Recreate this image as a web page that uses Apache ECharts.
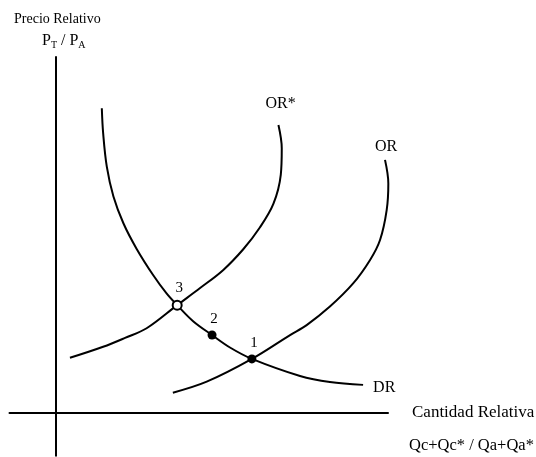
<!DOCTYPE html>
<html>
<head>
<meta charset="utf-8">
<script src="https://cdn.jsdelivr.net/npm/echarts@6/dist/echarts.min.js"></script>
<style>
  html, body { margin: 0; padding: 0; background: #fff; }
  #chart { width: 536px; height: 457px; }
</style>
</head>
<body>
<div id="chart"></div>
<script>
// curvas (unidades relativas 0-10)
var drCurve = [[1.38,8.56],[1.42,7.86],[1.53,6.92],[1.73,6.08],[2.03,5.33],[2.43,4.61],[2.93,3.87],
  [3.33,3.36],[3.65,3.03],[4.13,2.58],[4.70,2.19],[5.24,1.84],[5.90,1.52],[7.35,1.04],[8.25,0.87],[9.25,0.79]];
var orStarCurve = [[0.42,1.55],[1.42,1.86],[2.08,2.11],[2.73,2.38],[3.65,3.03],[4.34,3.51],[5.04,4.02],[5.64,4.60],
  [6.14,5.21],[6.55,5.88],[6.77,6.69],[6.80,7.44],[6.70,8.09]];
var orCurve = [[3.52,0.57],[4.54,0.88],[5.90,1.52],[7.05,2.19],[7.55,2.47],[8.25,2.99],[8.95,3.64],
  [9.46,4.30],[9.76,4.86],[9.96,5.70],[10.01,6.45],[9.91,7.11]];
var equilibria = [[5.90,1.52],[4.70,2.19],[3.65,3.03]];
var equilibriumNames = ['1', '2', '3'];

var serif = '"Liberation Serif", "DejaVu Serif", serif';
var chart = echarts.init(document.getElementById('chart'));

function curve(name, data, off) {
  return {
    name: name,
    type: 'line',
    data: data,
    smooth: 0.35,
    symbol: 'none',
    clip: false,
    lineStyle: { color: '#000', width: 2 },
    endLabel: {
      show: true,
      formatter: name,
      distance: 0,
      offset: off,
      color: '#000',
      fontFamily: serif,
      fontSize: 16
    },
    z: 3
  };
}

chart.setOption({
  animation: false,
  grid: { left: 9.52, right: 148, top: 57, bottom: 1.28 },
  xAxis: {
    type: 'value', min: -1.4, max: 10,
    axisLine: { onZero: true, lineStyle: { color: '#000', width: 2 } },
    axisTick: { show: false }, axisLabel: { show: false }, splitLine: { show: false }
  },
  yAxis: {
    type: 'value', min: -1.2, max: 10,
    axisLine: { onZero: true, lineStyle: { color: '#000', width: 2 } },
    axisTick: { show: false }, axisLabel: { show: false }, splitLine: { show: false }
  },
  series: [
    curve('OR*', orStarCurve, [-13, -21]),
    curve('OR', orCurve, [-10, -13]),
    curve('DR', drCurve, [10, 3]),
    {
      type: 'scatter',
      data: equilibria.map(function (p, i) {
        var hollow = i === 2;
        return {
          value: p,
          name: equilibriumNames[i],
          itemStyle: { color: hollow ? '#fff' : '#000', borderColor: '#000', borderWidth: hollow ? 2 : 0, opacity: 1 }
        };
      }),
      symbolSize: 9,
      label: {
        show: true, position: 'top', distance: 4, offset: [2, 0],
        formatter: '{b}', color: '#000', opacity: 1, fontFamily: serif, fontSize: 15
      },
      z: 5
    }
  ],
  graphic: [
    { type: 'text', x: 14, y: 19, style: { text: 'Precio Relativo', font: '14px ' + serif, fill: '#000', verticalAlign: 'middle' } },
    { type: 'text', x: 42, y: 41, style: {
        text: '{m|P}{s|T}{m| / P}{s|A}', fill: '#000', verticalAlign: 'middle',
        rich: {
          m: { fontFamily: serif, fontSize: 16, lineHeight: 18 },
          s: { fontFamily: serif, fontSize: 10, lineHeight: 10, verticalAlign: 'bottom' }
        }
    } },
    { type: 'text', x: 412, y: 413, style: { text: 'Cantidad Relativa', font: '17px ' + serif, fill: '#000', verticalAlign: 'middle' } },
    { type: 'text', x: 409, y: 446, style: { text: 'Qc+Qc* / Qa+Qa*', font: '16.5px ' + serif, fill: '#000', verticalAlign: 'middle' } }
  ]
});
</script>
</body>
</html>
